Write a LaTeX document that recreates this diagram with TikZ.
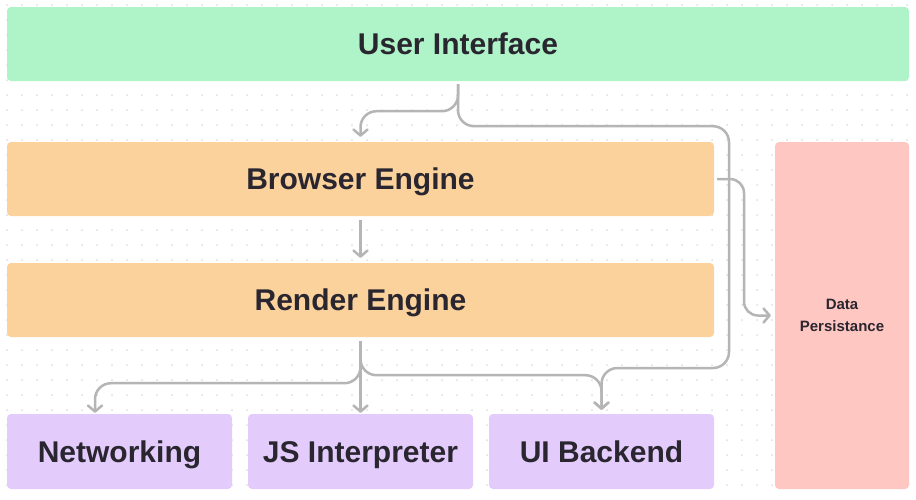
\documentclass[tikz,border=0pt]{standalone}
\usepackage{fontspec}
\setmainfont{Liberation Sans}
\usetikzlibrary{arrows.meta}

\definecolor{uigreen}{HTML}{AFF3C8}
\definecolor{engorange}{HTML}{FBD29C}
\definecolor{backlilac}{HTML}{E3CCFC}
\definecolor{storepink}{HTML}{FFC7C2}
\definecolor{labelink}{HTML}{2A2630}
\definecolor{wire}{HTML}{B5B5B5}
\definecolor{griddot}{HTML}{DEDEDE}

\tikzset{
  block/.style={fill=#1, rounded corners=4pt, inner sep=0pt, text=labelink,
    font=\fontsize{30}{36}\selectfont\bfseries, text height=21.5pt, text depth=0pt},
  conn/.style={draw=wire, line width=2.5pt, rounded corners=16pt,
    -{Straight Barb[length=6pt,width=14pt,line width=2.5pt,round]}},
}

\begin{document}
\begin{tikzpicture}[x=1pt,y=-1pt]
  % canvas and dotted grid
  \fill[white] (0,0) rectangle (916,499);
  \useasboundingbox (0,0) rectangle (916,499);
  \foreach \gx in {7,22,...,907} {
    \foreach \gy in {5,20,...,495} {
      \fill[griddot] (\gx,\gy) circle (1);
    }
  }

  % blocks
  \node[block=uigreen, minimum width=902pt, minimum height=74pt] (ui) at (458,44) {User Interface};
  \node[block=engorange, minimum width=707pt, minimum height=74pt] (be) at (360.5,179) {Browser Engine};
  \node[block=engorange, minimum width=707pt, minimum height=74pt] (re) at (360.5,300) {Render Engine};
  \node[block=backlilac, minimum width=225pt, minimum height=75pt] (nw) at (119.5,451.5) {Networking};
  \node[block=backlilac, minimum width=225pt, minimum height=75pt] (js) at (360.5,451.5) {JS Interpreter};
  \node[block=backlilac, minimum width=225pt, minimum height=75pt] (ub) at (601.5,451.5) {UI Backend};
  \node[block=storepink, minimum width=134pt, minimum height=347pt, align=center,
        text height=, text depth=,
        font=\fontsize{15}{22}\selectfont\bfseries] (dp) at (842,315.5) {Data\\Persistance};

  % connectors
  \draw[conn] ([yshift=-3pt]ui.south) -- ++(0,27) -| ([yshift=5pt]be.north);
  \draw[conn] ([yshift=-3pt]ui.south) -- ++(0,42) -| (729,368) -| ([yshift=4pt]ub.north);
  \draw[conn, rounded corners=14pt] ([xshift=3pt]be.east) -- (744,179) |- ([xshift=-4pt]dp.west);
  \draw[conn] ([yshift=-4pt]be.south) -- ([yshift=5pt]re.north);
  \draw[conn] ([yshift=-4pt]re.south) -- ++(0,42) -| ([xshift=-24.5pt,yshift=1pt]nw.north);
  \draw[conn] ([yshift=-4pt]re.south) -- ([yshift=1pt]js.north);
  \draw[conn] ([yshift=-4pt]re.south) -- ++(0,34) -| ([yshift=4pt]ub.north);
\end{tikzpicture}
\end{document}
